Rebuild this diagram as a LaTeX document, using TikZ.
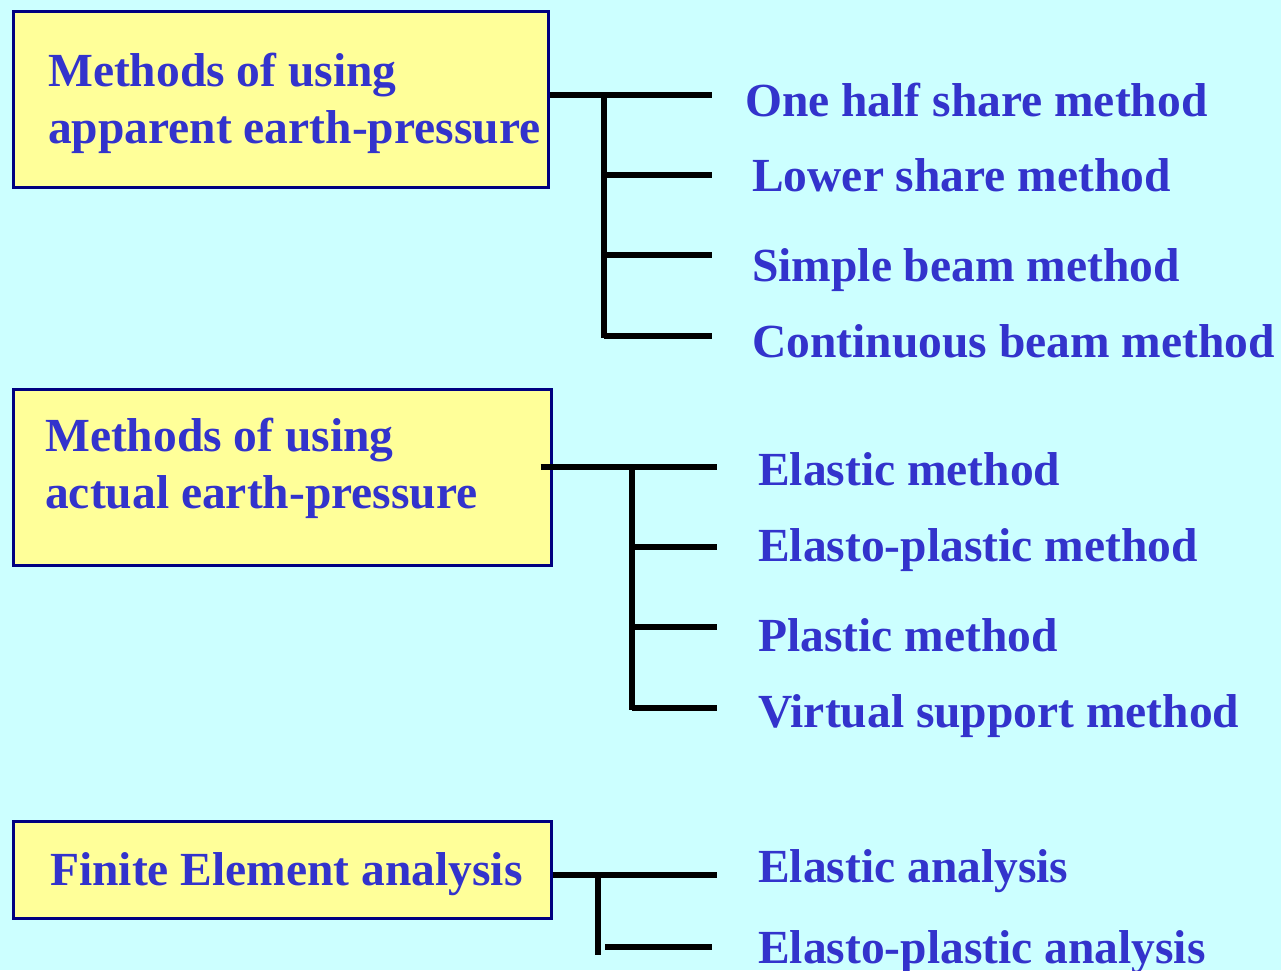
\documentclass[tikz,border=0pt]{standalone}
\usepackage{fontspec}
\setmainfont{Liberation Serif}
\usetikzlibrary{positioning}
\definecolor{SlideCyan}{RGB}{204,255,255}
\definecolor{SlideYellow}{RGB}{255,255,153}
\definecolor{SlideNavy}{RGB}{0,0,128}
\definecolor{SlideBlue}{RGB}{51,51,204}

\begin{document}
\begin{tikzpicture}[
x=1pt,y=-1pt,
box/.style={
rectangle,draw=SlideNavy,fill=SlideYellow,line width=3pt,
anchor=north west,inner sep=0pt
},
head/.style={anchor=base west,inner sep=0pt,align=left,
text=SlideBlue,font=\fontsize{47.5}{57}\selectfont\bfseries},
item/.style={anchor=base west,inner sep=0pt,
text=SlideBlue,font=\fontsize{47.5}{57}\selectfont\bfseries},
link/.style={line width=5.5pt,draw=black}
]

\fill[SlideCyan] (0,0) rectangle (1281,970);
\useasboundingbox (0,0) rectangle (1281,970);

% boxes
\node[box,minimum width=535pt,minimum height=176pt] (b1) at (11.5,9.5) {};
\node[box,minimum width=538pt,minimum height=176pt] (b2) at (11.5,387.5) {};
\node[box,minimum width=538pt,minimum height=97pt] (b3) at (11.5,819.5) {};

\node[head] (h1) at (48,143) {Methods of using\\apparent earth-pressure};
\node[head] (h2) at (45,508) {Methods of using\\actual earth-pressure};
\node[head] (h3) at (50,885) {Finite Element analysis};

% methods
\node[item] (m11) at (745,116) {One half share method};
\node[item] (m12) at (752,191) {Lower share method};
\node[item] (m13) at (752,281) {Simple beam method};
\node[item] (m14) at (752,357) {Continuous beam method};

\node[item] (m21) at (758,485) {Elastic method};
\node[item] (m22) at (758,561) {Elasto-plastic method};
\node[item] (m23) at (758,651) {Plastic method};
\node[item] (m24) at (758,727) {Virtual support method};

\node[item] (m31) at (758,882) {Elastic analysis};
\node[item] (m32) at (758,963) {Elasto-plastic analysis};

% brackets
\foreach \n/\y in {0/95,1/175,2/255,3/336}{
\coordinate (a\n) at (604,\y);
\coordinate (ae\n) at (712,\y);
}
\coordinate (abot) at (604,338);
\draw[link] (b1.east |- a0) -- (ae0);
\draw[link] (a0) -- (abot);
\foreach \n in {1,2,3}
\draw[link] (a\n) -- (ae\n);

\foreach \n/\y in {0/467,1/547,2/627,3/708}{
\coordinate (c\n) at (632,\y);
\coordinate (ce\n) at (717,\y);
}
\coordinate (cbot) at (632,710);
\draw[link] ([xshift=-12pt]b2.east |- c0) -- (ce0);
\draw[link] (c0) -- (cbot);
\foreach \n in {1,2,3}
\draw[link] (c\n) -- (ce\n);

\coordinate (d0) at (598,875);
\coordinate (de0) at (717,875);
\coordinate (dbot) at (598,955);
\coordinate (d1) at (605,947);
\coordinate (de1) at (712,947);
\draw[link] (b3.east |- d0) -- (de0);
\draw[link] (d0) -- (dbot);
\draw[link] (d1) -- (de1);

\end{tikzpicture}
\end{document}
